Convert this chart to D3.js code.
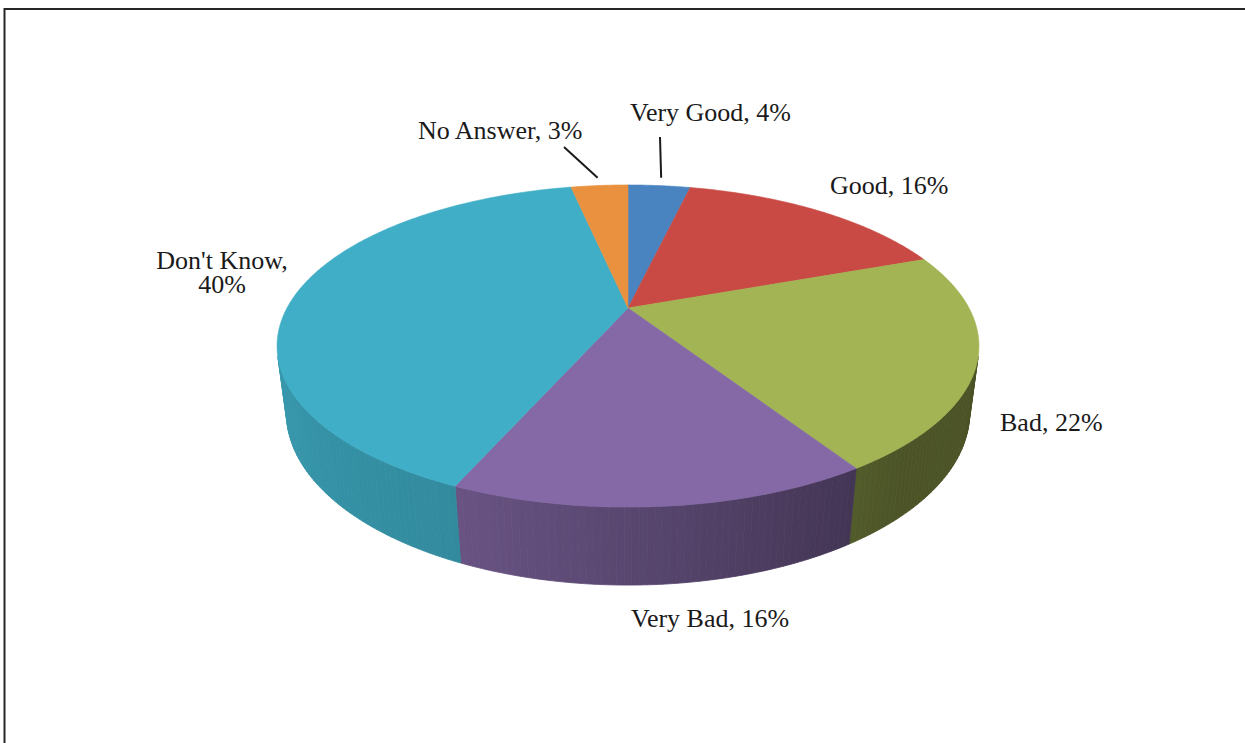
<!DOCTYPE html>
<html>
<head>
<meta charset="utf-8">
<script src="https://cdn.jsdelivr.net/npm/d3@7"></script>
<style>
  html, body { margin: 0; padding: 0; background: #ffffff; }
  svg { display: block; }
  text { font-family: "Liberation Serif", "Times New Roman", serif; fill: #1a1a1a; }
</style>
</head>
<body>
<svg id="chart" width="1245" height="743"></svg>
<script>
// ---------------- data ----------------
const categories = ["Very Good", "Good", "Bad", "Very Bad", "Don't Know", "No Answer"];
const values = [3.6, 15.8, 21.6, 15.5, 40.2, 3.3];
const colors = ["#4A84C0", "#C94A44", "#A2B453", "#8469A6", "#3FAEC6", "#E9913E"];

// ---------------- layout ----------------
const W = 1245, H = 743;
const view = { cx: 628, cy: 308, k: 341, D: 3.79, tilt: Math.asin(0.446), depth: 0.2185 };
const cosT = Math.cos(view.tilt), sinT = Math.sin(view.tilt);
// label placement
const labelLayout = [
  { x: 630, y: 121, anchor: "start", leader: true, end: [660, 137] },
  { x: 830, y: 194, anchor: "start" },
  { x: 1000, y: 431, anchor: "start" },
  { x: 631, y: 627, anchor: "start" },
  { x: 222, y: 269, anchor: "middle", split: true },
  { x: 418, y: 139, anchor: "start", leader: true, end: [564, 147] }
];

const svg = d3.select("#chart");
svg.append("rect").attr("width", W).attr("height", H).attr("fill", "#fff");
// frame (top and left edges visible)
svg.append("path").attr("d", `M4.5,${H} V9 H${W}`).attr("fill", "none")
  .attr("stroke", "#262626").attr("stroke-width", 2);

// pie angles (0 at 12 o'clock, clockwise)
const pie = d3.pie().sort(null).value(d => d)(values);
// angle -> world theta (theta=-90deg is far side, 0 is right, 90 is front)
const toTheta = a => a - Math.PI / 2;

function proj(theta, h, r = 1) {
  const x = r * Math.cos(theta), z = r * Math.sin(theta);
  const dep = view.D - (z * cosT + h * sinT);
  const f = view.D / dep;
  return [view.cx + view.k * x * f, view.cy - view.k * (h * cosT - z * sinT) * f];
}

const shade = d3.scaleLinear()
  .domain([0, 50, 115, 180].map(d => d * Math.PI / 180))
  .range([0.45, 0.47, 0.80, 0.9])
  .clamp(true);

// visible wall range
const tMin = Math.asin(1 / (view.D * cosT));
const tMax = Math.PI - tMin;
const step = Math.PI / 180;
const gSide = svg.append("g");
const hB = -view.depth;

pie.forEach((p, i) => {
  const t0 = Math.max(toTheta(p.startAngle), tMin);
  const t1 = Math.min(toTheta(p.endAngle), tMax);
  if (t1 <= t0) return;
  const n = Math.max(1, Math.ceil((t1 - t0) / step));
  for (let j = 0; j < n; j++) {
    const a = t0 + (t1 - t0) * j / n, b = t0 + (t1 - t0) * (j + 1) / n;
    const pts = [proj(a, 0), proj(b, 0), proj(b, hB), proj(a, hB)];
    const col = d3.interpolateRgb("#000000", colors[i])(shade((a + b) / 2));
    gSide.append("path")
      .attr("d", "M" + pts.map(q => q.join(",")).join("L") + "Z")
      .attr("fill", col).attr("stroke", col).attr("stroke-width", 0.8);
  }
});

// top faces
const gTop = svg.append("g");
pie.forEach((p, i) => {
  const a0 = toTheta(p.startAngle), a1 = toTheta(p.endAngle);
  const n = Math.max(2, Math.ceil((a1 - a0) / (step / 2)));
  const pts = [[view.cx, view.cy]];
  for (let j = 0; j <= n; j++) pts.push(proj(a0 + (a1 - a0) * j / n, 0));
  gTop.append("path")
    .attr("d", "M" + pts.map(q => q.join(",")).join("L") + "Z")
    .attr("fill", colors[i]).attr("stroke", colors[i]).attr("stroke-width", 0.6);
});

// labels + leaders
const gLab = svg.append("g");
pie.forEach((p, i) => {
  const L = labelLayout[i];
  const pct = Math.round(values[i]) + "%";
  if (L.leader) {
    const mid = toTheta((p.startAngle + p.endAngle) / 2);
    const s = proj(mid, 0, 1.08);
    gLab.append("line").attr("x1", s[0]).attr("y1", s[1])
      .attr("x2", L.end[0]).attr("y2", L.end[1])
      .attr("stroke", "#1a1a1a").attr("stroke-width", 2);
  }
  const t = gLab.append("text").attr("x", L.x).attr("y", L.y)
    .attr("text-anchor", L.anchor).attr("font-size", 26);
  if (L.split) {
    t.append("tspan").attr("x", L.x).text(categories[i] + ",");
    t.append("tspan").attr("x", L.x).attr("dy", 24).text(pct);
  } else {
    t.text(categories[i] + ", " + pct);
  }
});
</script>
</body>
</html>
